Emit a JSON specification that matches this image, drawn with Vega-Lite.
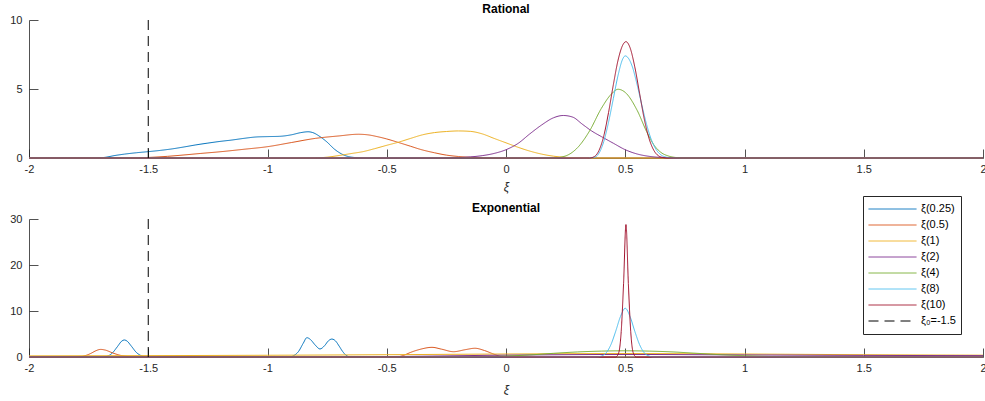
{
  "$schema": "https://vega.github.io/schema/vega-lite/v6.json",
  "padding": {"left": 9, "top": 3, "right": 0, "bottom": 0},
  "background": "white",
  "bounds": "flush",
  "spacing": 61,
  "config": {
    "view": {"stroke": null},
    "font": "Liberation Sans",
    "axis": {
      "domainColor": "#262626", "domainWidth": 0.8, "tickColor": "#262626", "tickWidth": 0.8,
      "tickSize": -9, "labelPadding": 14, "labelFlush": false, "labelColor": "#262626", "labelFont": "Liberation Sans",
      "labelFontSize": 11, "grid": false, "titleFont": "Liberation Sans", "titleFontSize": 12,
      "titleFontStyle": "italic", "titleFontWeight": "normal", "titleColor": "#262626", "titlePadding": 6
    },
    "axisY": {"labelPadding": 16},
    "title": {"font": "Liberation Sans", "fontSize": 12, "fontWeight": "bold", "color": "#000000", "offset": -2, "anchor": "middle"},
    "legend": {
      "orient": "none", "legendX": 834, "legendY": 176, "strokeColor": "#262626", "fillColor": "white",
      "padding": 5, "symbolSize": 2304, "symbolStrokeWidth": 1, "symbolType": "stroke",
      "labelFont": "Liberation Sans", "labelFontSize": 11, "labelColor": "#000000",
      "clipHeight": 16, "rowPadding": 0, "labelOffset": 4
    }
  },
  "datasets": {
    "d": [
      {"p":"R","s":"ξ(0.25)","x":-2,"y":0},{"p":"R","s":"ξ(0.25)","x":-1.72,"y":0},{"p":"R","s":"ξ(0.25)","x":-1.68,"y":0.05},{"p":"R","s":"ξ(0.25)","x":-1.64,"y":0.18},{"p":"R","s":"ξ(0.25)","x":-1.6,"y":0.28},{"p":"R","s":"ξ(0.25)","x":-1.55,"y":0.38},{"p":"R","s":"ξ(0.25)","x":-1.5,"y":0.46},{"p":"R","s":"ξ(0.25)","x":-1.45,"y":0.55},{"p":"R","s":"ξ(0.25)","x":-1.4,"y":0.66},{"p":"R","s":"ξ(0.25)","x":-1.35,"y":0.8},{"p":"R","s":"ξ(0.25)","x":-1.3,"y":0.95},{"p":"R","s":"ξ(0.25)","x":-1.25,"y":1.08},{"p":"R","s":"ξ(0.25)","x":-1.2,"y":1.2},{"p":"R","s":"ξ(0.25)","x":-1.15,"y":1.3},{"p":"R","s":"ξ(0.25)","x":-1.1,"y":1.42},{"p":"R","s":"ξ(0.25)","x":-1.05,"y":1.52},{"p":"R","s":"ξ(0.25)","x":-1.0,"y":1.55},{"p":"R","s":"ξ(0.25)","x":-0.95,"y":1.57},{"p":"R","s":"ξ(0.25)","x":-0.9,"y":1.68},{"p":"R","s":"ξ(0.25)","x":-0.86,"y":1.84},{"p":"R","s":"ξ(0.25)","x":-0.83,"y":1.9},{"p":"R","s":"ξ(0.25)","x":-0.81,"y":1.84},{"p":"R","s":"ξ(0.25)","x":-0.78,"y":1.55},{"p":"R","s":"ξ(0.25)","x":-0.75,"y":1.15},{"p":"R","s":"ξ(0.25)","x":-0.72,"y":0.65},{"p":"R","s":"ξ(0.25)","x":-0.69,"y":0.3},{"p":"R","s":"ξ(0.25)","x":-0.66,"y":0.1},{"p":"R","s":"ξ(0.25)","x":-0.62,"y":0.02},{"p":"R","s":"ξ(0.25)","x":-0.58,"y":0},{"p":"R","s":"ξ(0.25)","x":2,"y":0},
      {"p":"R","s":"ξ(0.5)","x":-2,"y":0},{"p":"R","s":"ξ(0.5)","x":-1.6,"y":0},{"p":"R","s":"ξ(0.5)","x":-1.5,"y":0.04},{"p":"R","s":"ξ(0.5)","x":-1.42,"y":0.12},{"p":"R","s":"ξ(0.5)","x":-1.35,"y":0.22},{"p":"R","s":"ξ(0.5)","x":-1.28,"y":0.33},{"p":"R","s":"ξ(0.5)","x":-1.2,"y":0.45},{"p":"R","s":"ξ(0.5)","x":-1.1,"y":0.63},{"p":"R","s":"ξ(0.5)","x":-1.0,"y":0.82},{"p":"R","s":"ξ(0.5)","x":-0.9,"y":1.12},{"p":"R","s":"ξ(0.5)","x":-0.8,"y":1.42},{"p":"R","s":"ξ(0.5)","x":-0.7,"y":1.6},{"p":"R","s":"ξ(0.5)","x":-0.62,"y":1.72},{"p":"R","s":"ξ(0.5)","x":-0.58,"y":1.68},{"p":"R","s":"ξ(0.5)","x":-0.54,"y":1.55},{"p":"R","s":"ξ(0.5)","x":-0.5,"y":1.38},{"p":"R","s":"ξ(0.5)","x":-0.45,"y":1.12},{"p":"R","s":"ξ(0.5)","x":-0.4,"y":0.85},{"p":"R","s":"ξ(0.5)","x":-0.36,"y":0.63},{"p":"R","s":"ξ(0.5)","x":-0.3,"y":0.38},{"p":"R","s":"ξ(0.5)","x":-0.25,"y":0.21},{"p":"R","s":"ξ(0.5)","x":-0.2,"y":0.11},{"p":"R","s":"ξ(0.5)","x":-0.15,"y":0.05},{"p":"R","s":"ξ(0.5)","x":-0.1,"y":0.01},{"p":"R","s":"ξ(0.5)","x":-0.05,"y":0},{"p":"R","s":"ξ(0.5)","x":2,"y":0},
      {"p":"R","s":"ξ(1)","x":-2,"y":0},{"p":"R","s":"ξ(1)","x":-0.82,"y":0},{"p":"R","s":"ξ(1)","x":-0.75,"y":0.06},{"p":"R","s":"ξ(1)","x":-0.7,"y":0.18},{"p":"R","s":"ξ(1)","x":-0.65,"y":0.32},{"p":"R","s":"ξ(1)","x":-0.6,"y":0.46},{"p":"R","s":"ξ(1)","x":-0.55,"y":0.68},{"p":"R","s":"ξ(1)","x":-0.5,"y":0.92},{"p":"R","s":"ξ(1)","x":-0.45,"y":1.15},{"p":"R","s":"ξ(1)","x":-0.4,"y":1.42},{"p":"R","s":"ξ(1)","x":-0.35,"y":1.68},{"p":"R","s":"ξ(1)","x":-0.3,"y":1.84},{"p":"R","s":"ξ(1)","x":-0.25,"y":1.92},{"p":"R","s":"ξ(1)","x":-0.2,"y":1.96},{"p":"R","s":"ξ(1)","x":-0.15,"y":1.93},{"p":"R","s":"ξ(1)","x":-0.1,"y":1.75},{"p":"R","s":"ξ(1)","x":-0.05,"y":1.42},{"p":"R","s":"ξ(1)","x":0,"y":1.1},{"p":"R","s":"ξ(1)","x":0.05,"y":0.78},{"p":"R","s":"ξ(1)","x":0.1,"y":0.5},{"p":"R","s":"ξ(1)","x":0.15,"y":0.28},{"p":"R","s":"ξ(1)","x":0.2,"y":0.13},{"p":"R","s":"ξ(1)","x":0.25,"y":0.05},{"p":"R","s":"ξ(1)","x":0.3,"y":0.01},{"p":"R","s":"ξ(1)","x":0.35,"y":0},{"p":"R","s":"ξ(1)","x":2,"y":0},
      {"p":"R","s":"ξ(2)","x":-2,"y":0},{"p":"R","s":"ξ(2)","x":-0.3,"y":0},{"p":"R","s":"ξ(2)","x":-0.2,"y":0.03},{"p":"R","s":"ξ(2)","x":-0.15,"y":0.08},{"p":"R","s":"ξ(2)","x":-0.1,"y":0.17},{"p":"R","s":"ξ(2)","x":-0.05,"y":0.33},{"p":"R","s":"ξ(2)","x":0,"y":0.6},{"p":"R","s":"ξ(2)","x":0.05,"y":1.05},{"p":"R","s":"ξ(2)","x":0.1,"y":1.75},{"p":"R","s":"ξ(2)","x":0.15,"y":2.4},{"p":"R","s":"ξ(2)","x":0.2,"y":2.92},{"p":"R","s":"ξ(2)","x":0.24,"y":3.08},{"p":"R","s":"ξ(2)","x":0.28,"y":2.96},{"p":"R","s":"ξ(2)","x":0.32,"y":2.45},{"p":"R","s":"ξ(2)","x":0.36,"y":1.95},{"p":"R","s":"ξ(2)","x":0.4,"y":1.55},{"p":"R","s":"ξ(2)","x":0.45,"y":1.07},{"p":"R","s":"ξ(2)","x":0.5,"y":0.6},{"p":"R","s":"ξ(2)","x":0.55,"y":0.29},{"p":"R","s":"ξ(2)","x":0.6,"y":0.12},{"p":"R","s":"ξ(2)","x":0.65,"y":0.04},{"p":"R","s":"ξ(2)","x":0.7,"y":0.01},{"p":"R","s":"ξ(2)","x":0.75,"y":0},{"p":"R","s":"ξ(2)","x":2,"y":0},
      {"p":"R","s":"ξ(4)","x":-2,"y":0},{"p":"R","s":"ξ(4)","x":0.2,"y":0},{"p":"R","s":"ξ(4)","x":0.25,"y":0.15},{"p":"R","s":"ξ(4)","x":0.3,"y":0.75},{"p":"R","s":"ξ(4)","x":0.35,"y":1.95},{"p":"R","s":"ξ(4)","x":0.4,"y":3.6},{"p":"R","s":"ξ(4)","x":0.44,"y":4.6},{"p":"R","s":"ξ(4)","x":0.47,"y":4.98},{"p":"R","s":"ξ(4)","x":0.5,"y":4.75},{"p":"R","s":"ξ(4)","x":0.55,"y":3.45},{"p":"R","s":"ξ(4)","x":0.59,"y":1.9},{"p":"R","s":"ξ(4)","x":0.62,"y":0.95},{"p":"R","s":"ξ(4)","x":0.65,"y":0.4},{"p":"R","s":"ξ(4)","x":0.68,"y":0.15},{"p":"R","s":"ξ(4)","x":0.71,"y":0.04},{"p":"R","s":"ξ(4)","x":0.75,"y":0},{"p":"R","s":"ξ(4)","x":2,"y":0},
      {"p":"R","s":"ξ(8)","x":-2,"y":0},{"p":"R","s":"ξ(8)","x":0.34,"y":0},{"p":"R","s":"ξ(8)","x":0.37,"y":0.05},{"p":"R","s":"ξ(8)","x":0.39,"y":0.35},{"p":"R","s":"ξ(8)","x":0.41,"y":1.2},{"p":"R","s":"ξ(8)","x":0.43,"y":2.6},{"p":"R","s":"ξ(8)","x":0.45,"y":4.3},{"p":"R","s":"ξ(8)","x":0.47,"y":6.0},{"p":"R","s":"ξ(8)","x":0.49,"y":7.2},{"p":"R","s":"ξ(8)","x":0.5,"y":7.4},{"p":"R","s":"ξ(8)","x":0.51,"y":7.3},{"p":"R","s":"ξ(8)","x":0.53,"y":6.6},{"p":"R","s":"ξ(8)","x":0.55,"y":5.3},{"p":"R","s":"ξ(8)","x":0.57,"y":3.8},{"p":"R","s":"ξ(8)","x":0.59,"y":2.4},{"p":"R","s":"ξ(8)","x":0.61,"y":1.3},{"p":"R","s":"ξ(8)","x":0.63,"y":0.6},{"p":"R","s":"ξ(8)","x":0.65,"y":0.22},{"p":"R","s":"ξ(8)","x":0.67,"y":0.07},{"p":"R","s":"ξ(8)","x":0.7,"y":0},{"p":"R","s":"ξ(8)","x":2,"y":0},
      {"p":"R","s":"ξ(10)","x":-2,"y":0},{"p":"R","s":"ξ(10)","x":0.35,"y":0},{"p":"R","s":"ξ(10)","x":0.37,"y":0.1},{"p":"R","s":"ξ(10)","x":0.39,"y":0.55},{"p":"R","s":"ξ(10)","x":0.41,"y":1.6},{"p":"R","s":"ξ(10)","x":0.43,"y":3.3},{"p":"R","s":"ξ(10)","x":0.45,"y":5.3},{"p":"R","s":"ξ(10)","x":0.47,"y":7.1},{"p":"R","s":"ξ(10)","x":0.49,"y":8.2},{"p":"R","s":"ξ(10)","x":0.503,"y":8.43},{"p":"R","s":"ξ(10)","x":0.52,"y":8.0},{"p":"R","s":"ξ(10)","x":0.54,"y":6.6},{"p":"R","s":"ξ(10)","x":0.56,"y":4.7},{"p":"R","s":"ξ(10)","x":0.58,"y":2.8},{"p":"R","s":"ξ(10)","x":0.6,"y":1.4},{"p":"R","s":"ξ(10)","x":0.62,"y":0.55},{"p":"R","s":"ξ(10)","x":0.64,"y":0.15},{"p":"R","s":"ξ(10)","x":0.66,"y":0.03},{"p":"R","s":"ξ(10)","x":0.68,"y":0},{"p":"R","s":"ξ(10)","x":2,"y":0},
      {"p":"R","s":"ξ₀=-1.5","x":-1.5,"y":0},{"p":"R","s":"ξ₀=-1.5","x":-1.5,"y":10},
      {"p":"E","s":"ξ(0.25)","x":-2,"y":0},{"p":"E","s":"ξ(0.25)","x":-1.69,"y":0},{"p":"E","s":"ξ(0.25)","x":-1.67,"y":0.2},{"p":"E","s":"ξ(0.25)","x":-1.65,"y":0.9},{"p":"E","s":"ξ(0.25)","x":-1.63,"y":2.2},{"p":"E","s":"ξ(0.25)","x":-1.61,"y":3.5},{"p":"E","s":"ξ(0.25)","x":-1.6,"y":3.7},{"p":"E","s":"ξ(0.25)","x":-1.59,"y":3.5},{"p":"E","s":"ξ(0.25)","x":-1.57,"y":2.3},{"p":"E","s":"ξ(0.25)","x":-1.55,"y":1.0},{"p":"E","s":"ξ(0.25)","x":-1.53,"y":0.3},{"p":"E","s":"ξ(0.25)","x":-1.51,"y":0},{"p":"E","s":"ξ(0.25)","x":-0.91,"y":0},{"p":"E","s":"ξ(0.25)","x":-0.89,"y":0.3},{"p":"E","s":"ξ(0.25)","x":-0.87,"y":1.2},{"p":"E","s":"ξ(0.25)","x":-0.85,"y":3.0},{"p":"E","s":"ξ(0.25)","x":-0.835,"y":4.2},{"p":"E","s":"ξ(0.25)","x":-0.82,"y":3.8},{"p":"E","s":"ξ(0.25)","x":-0.8,"y":2.6},{"p":"E","s":"ξ(0.25)","x":-0.78,"y":1.75},{"p":"E","s":"ξ(0.25)","x":-0.76,"y":2.5},{"p":"E","s":"ξ(0.25)","x":-0.745,"y":3.5},{"p":"E","s":"ξ(0.25)","x":-0.73,"y":3.9},{"p":"E","s":"ξ(0.25)","x":-0.715,"y":3.5},{"p":"E","s":"ξ(0.25)","x":-0.7,"y":2.4},{"p":"E","s":"ξ(0.25)","x":-0.685,"y":1.2},{"p":"E","s":"ξ(0.25)","x":-0.67,"y":0.35},{"p":"E","s":"ξ(0.25)","x":-0.655,"y":0.05},{"p":"E","s":"ξ(0.25)","x":-0.64,"y":0},{"p":"E","s":"ξ(0.25)","x":2,"y":0},
      {"p":"E","s":"ξ(0.5)","x":-2,"y":0},{"p":"E","s":"ξ(0.5)","x":-1.8,"y":0},{"p":"E","s":"ξ(0.5)","x":-1.77,"y":0.2},{"p":"E","s":"ξ(0.5)","x":-1.74,"y":0.8},{"p":"E","s":"ξ(0.5)","x":-1.72,"y":1.35},{"p":"E","s":"ξ(0.5)","x":-1.7,"y":1.65},{"p":"E","s":"ξ(0.5)","x":-1.68,"y":1.5},{"p":"E","s":"ξ(0.5)","x":-1.65,"y":0.9},{"p":"E","s":"ξ(0.5)","x":-1.62,"y":0.4},{"p":"E","s":"ξ(0.5)","x":-1.59,"y":0.12},{"p":"E","s":"ξ(0.5)","x":-1.56,"y":0.02},{"p":"E","s":"ξ(0.5)","x":-1.53,"y":0},{"p":"E","s":"ξ(0.5)","x":-0.46,"y":0},{"p":"E","s":"ξ(0.5)","x":-0.43,"y":0.35},{"p":"E","s":"ξ(0.5)","x":-0.4,"y":1.0},{"p":"E","s":"ξ(0.5)","x":-0.36,"y":1.67},{"p":"E","s":"ξ(0.5)","x":-0.31,"y":2.1},{"p":"E","s":"ξ(0.5)","x":-0.27,"y":1.7},{"p":"E","s":"ξ(0.5)","x":-0.22,"y":1.15},{"p":"E","s":"ξ(0.5)","x":-0.17,"y":1.6},{"p":"E","s":"ξ(0.5)","x":-0.13,"y":1.9},{"p":"E","s":"ξ(0.5)","x":-0.09,"y":1.4},{"p":"E","s":"ξ(0.5)","x":-0.05,"y":0.6},{"p":"E","s":"ξ(0.5)","x":-0.02,"y":0.1},{"p":"E","s":"ξ(0.5)","x":0.01,"y":0},{"p":"E","s":"ξ(0.5)","x":2,"y":0},
      {"p":"E","s":"ξ(1)","x":-2,"y":0.25},{"p":"E","s":"ξ(1)","x":-1.5,"y":0.3},{"p":"E","s":"ξ(1)","x":-1,"y":0.38},{"p":"E","s":"ξ(1)","x":-0.5,"y":0.5},{"p":"E","s":"ξ(1)","x":0,"y":0.65},{"p":"E","s":"ξ(1)","x":0.5,"y":0.75},{"p":"E","s":"ξ(1)","x":1,"y":0.65},{"p":"E","s":"ξ(1)","x":1.5,"y":0.5},{"p":"E","s":"ξ(1)","x":2,"y":0.4},
      {"p":"E","s":"ξ(2)","x":-2,"y":0},{"p":"E","s":"ξ(2)","x":-1,"y":0.02},{"p":"E","s":"ξ(2)","x":-0.5,"y":0.1},{"p":"E","s":"ξ(2)","x":0,"y":0.4},{"p":"E","s":"ξ(2)","x":0.5,"y":0.55},{"p":"E","s":"ξ(2)","x":1,"y":0.45},{"p":"E","s":"ξ(2)","x":1.5,"y":0.35},{"p":"E","s":"ξ(2)","x":2,"y":0.3},
      {"p":"E","s":"ξ(4)","x":-2,"y":0},{"p":"E","s":"ξ(4)","x":-0.2,"y":0},{"p":"E","s":"ξ(4)","x":-0.1,"y":0.05},{"p":"E","s":"ξ(4)","x":0,"y":0.2},{"p":"E","s":"ξ(4)","x":0.1,"y":0.45},{"p":"E","s":"ξ(4)","x":0.2,"y":0.8},{"p":"E","s":"ξ(4)","x":0.3,"y":1.1},{"p":"E","s":"ξ(4)","x":0.4,"y":1.28},{"p":"E","s":"ξ(4)","x":0.5,"y":1.35},{"p":"E","s":"ξ(4)","x":0.6,"y":1.28},{"p":"E","s":"ξ(4)","x":0.7,"y":1.1},{"p":"E","s":"ξ(4)","x":0.8,"y":0.8},{"p":"E","s":"ξ(4)","x":0.9,"y":0.5},{"p":"E","s":"ξ(4)","x":1.0,"y":0.28},{"p":"E","s":"ξ(4)","x":1.1,"y":0.12},{"p":"E","s":"ξ(4)","x":1.2,"y":0.04},{"p":"E","s":"ξ(4)","x":1.3,"y":0},{"p":"E","s":"ξ(4)","x":2,"y":0},
      {"p":"E","s":"ξ(8)","x":-2,"y":0},{"p":"E","s":"ξ(8)","x":0.38,"y":0},{"p":"E","s":"ξ(8)","x":0.4,"y":0.2},{"p":"E","s":"ξ(8)","x":0.42,"y":0.9},{"p":"E","s":"ξ(8)","x":0.44,"y":2.7},{"p":"E","s":"ξ(8)","x":0.46,"y":5.6},{"p":"E","s":"ξ(8)","x":0.48,"y":8.8},{"p":"E","s":"ξ(8)","x":0.5,"y":10.6},{"p":"E","s":"ξ(8)","x":0.52,"y":8.8},{"p":"E","s":"ξ(8)","x":0.54,"y":5.6},{"p":"E","s":"ξ(8)","x":0.56,"y":2.7},{"p":"E","s":"ξ(8)","x":0.58,"y":0.9},{"p":"E","s":"ξ(8)","x":0.6,"y":0.2},{"p":"E","s":"ξ(8)","x":0.62,"y":0},{"p":"E","s":"ξ(8)","x":2,"y":0},
      {"p":"E","s":"ξ(10)","x":-2,"y":0},{"p":"E","s":"ξ(10)","x":0.46,"y":0},{"p":"E","s":"ξ(10)","x":0.473,"y":1.0},{"p":"E","s":"ξ(10)","x":0.483,"y":5.5},{"p":"E","s":"ξ(10)","x":0.493,"y":16},{"p":"E","s":"ξ(10)","x":0.503,"y":28.8},{"p":"E","s":"ξ(10)","x":0.513,"y":16},{"p":"E","s":"ξ(10)","x":0.523,"y":5.5},{"p":"E","s":"ξ(10)","x":0.533,"y":1.0},{"p":"E","s":"ξ(10)","x":0.546,"y":0},{"p":"E","s":"ξ(10)","x":2,"y":0},
      {"p":"E","s":"ξ₀=-1.5","x":-1.5,"y":0},{"p":"E","s":"ξ₀=-1.5","x":-1.5,"y":30}
    ]
  },
  "data": {"name": "d"},
  "resolve": {"scale": {"color": "shared", "strokeDash": "shared"}, "legend": {"color": "shared", "strokeDash": "shared"}},
  "vconcat": [
    {
      "title": "Rational",
      "width": 954, "height": 138,
      "transform": [{"filter": "datum.p == 'R'"}],
      "encoding": {
        "x": {"field": "x", "type": "quantitative", "scale": {"domain": [-2, 2], "nice": false},
              "axis": {"title": "ξ", "titlePadding": 7, "values": [-2, -1.5, -1, -0.5, 0, 0.5, 1, 1.5, 2], "labelExpr": "toString(datum.value)"}},
        "y": {"field": "y", "type": "quantitative", "scale": {"domain": [0, 10], "nice": false},
              "axis": {"title": null, "values": [0, 5, 10], "labelExpr": "toString(datum.value)"}},
        "color": {"field": "s", "type": "nominal", "legend": {"title": null},
                  "scale": {"domain": ["ξ(0.25)", "ξ(0.5)", "ξ(1)", "ξ(2)", "ξ(4)", "ξ(8)", "ξ(10)", "ξ₀=-1.5"],
                            "range": ["#0072BD", "#D95319", "#EDB120", "#7E2F8E", "#77AC30", "#4DBEEE", "#A2142F", "#000000"]}},
        "strokeDash": {"field": "s", "type": "nominal", "legend": {"title": null},
                  "scale": {"domain": ["ξ(0.25)", "ξ(0.5)", "ξ(1)", "ξ(2)", "ξ(4)", "ξ(8)", "ξ(10)", "ξ₀=-1.5"],
                            "range": [[1, 0], [1, 0], [1, 0], [1, 0], [1, 0], [1, 0], [1, 0], [10, 6]]}}
      },
      "layer": [
        {"transform": [{"filter": "datum.s != 'ξ₀=-1.5'"}], "mark": {"type": "line", "interpolate": "monotone", "strokeWidth": 1}},
        {"transform": [{"filter": "datum.s == 'ξ₀=-1.5'"}], "mark": {"type": "line", "strokeWidth": 1}}
      ]
    },
    {
      "title": "Exponential",
      "width": 954, "height": 138,
      "transform": [{"filter": "datum.p == 'E'"}],
      "encoding": {
        "x": {"field": "x", "type": "quantitative", "scale": {"domain": [-2, 2], "nice": false},
              "axis": {"title": "ξ", "titlePadding": 11, "values": [-2, -1.5, -1, -0.5, 0, 0.5, 1, 1.5, 2], "labelExpr": "toString(datum.value)"}},
        "y": {"field": "y", "type": "quantitative", "scale": {"domain": [0, 30], "nice": false},
              "axis": {"title": null, "values": [0, 10, 20, 30], "labelExpr": "toString(datum.value)"}},
        "color": {"field": "s", "type": "nominal", "legend": {"title": null},
                  "scale": {"domain": ["ξ(0.25)", "ξ(0.5)", "ξ(1)", "ξ(2)", "ξ(4)", "ξ(8)", "ξ(10)", "ξ₀=-1.5"],
                            "range": ["#0072BD", "#D95319", "#EDB120", "#7E2F8E", "#77AC30", "#4DBEEE", "#A2142F", "#000000"]}},
        "strokeDash": {"field": "s", "type": "nominal", "legend": {"title": null},
                  "scale": {"domain": ["ξ(0.25)", "ξ(0.5)", "ξ(1)", "ξ(2)", "ξ(4)", "ξ(8)", "ξ(10)", "ξ₀=-1.5"],
                            "range": [[1, 0], [1, 0], [1, 0], [1, 0], [1, 0], [1, 0], [1, 0], [10, 6]]}}
      },
      "layer": [
        {"transform": [{"filter": "datum.s != 'ξ₀=-1.5'"}], "mark": {"type": "line", "interpolate": "monotone", "strokeWidth": 1}},
        {"transform": [{"filter": "datum.s == 'ξ₀=-1.5'"}], "mark": {"type": "line", "strokeWidth": 1}}
      ]
    }
  ]
}
